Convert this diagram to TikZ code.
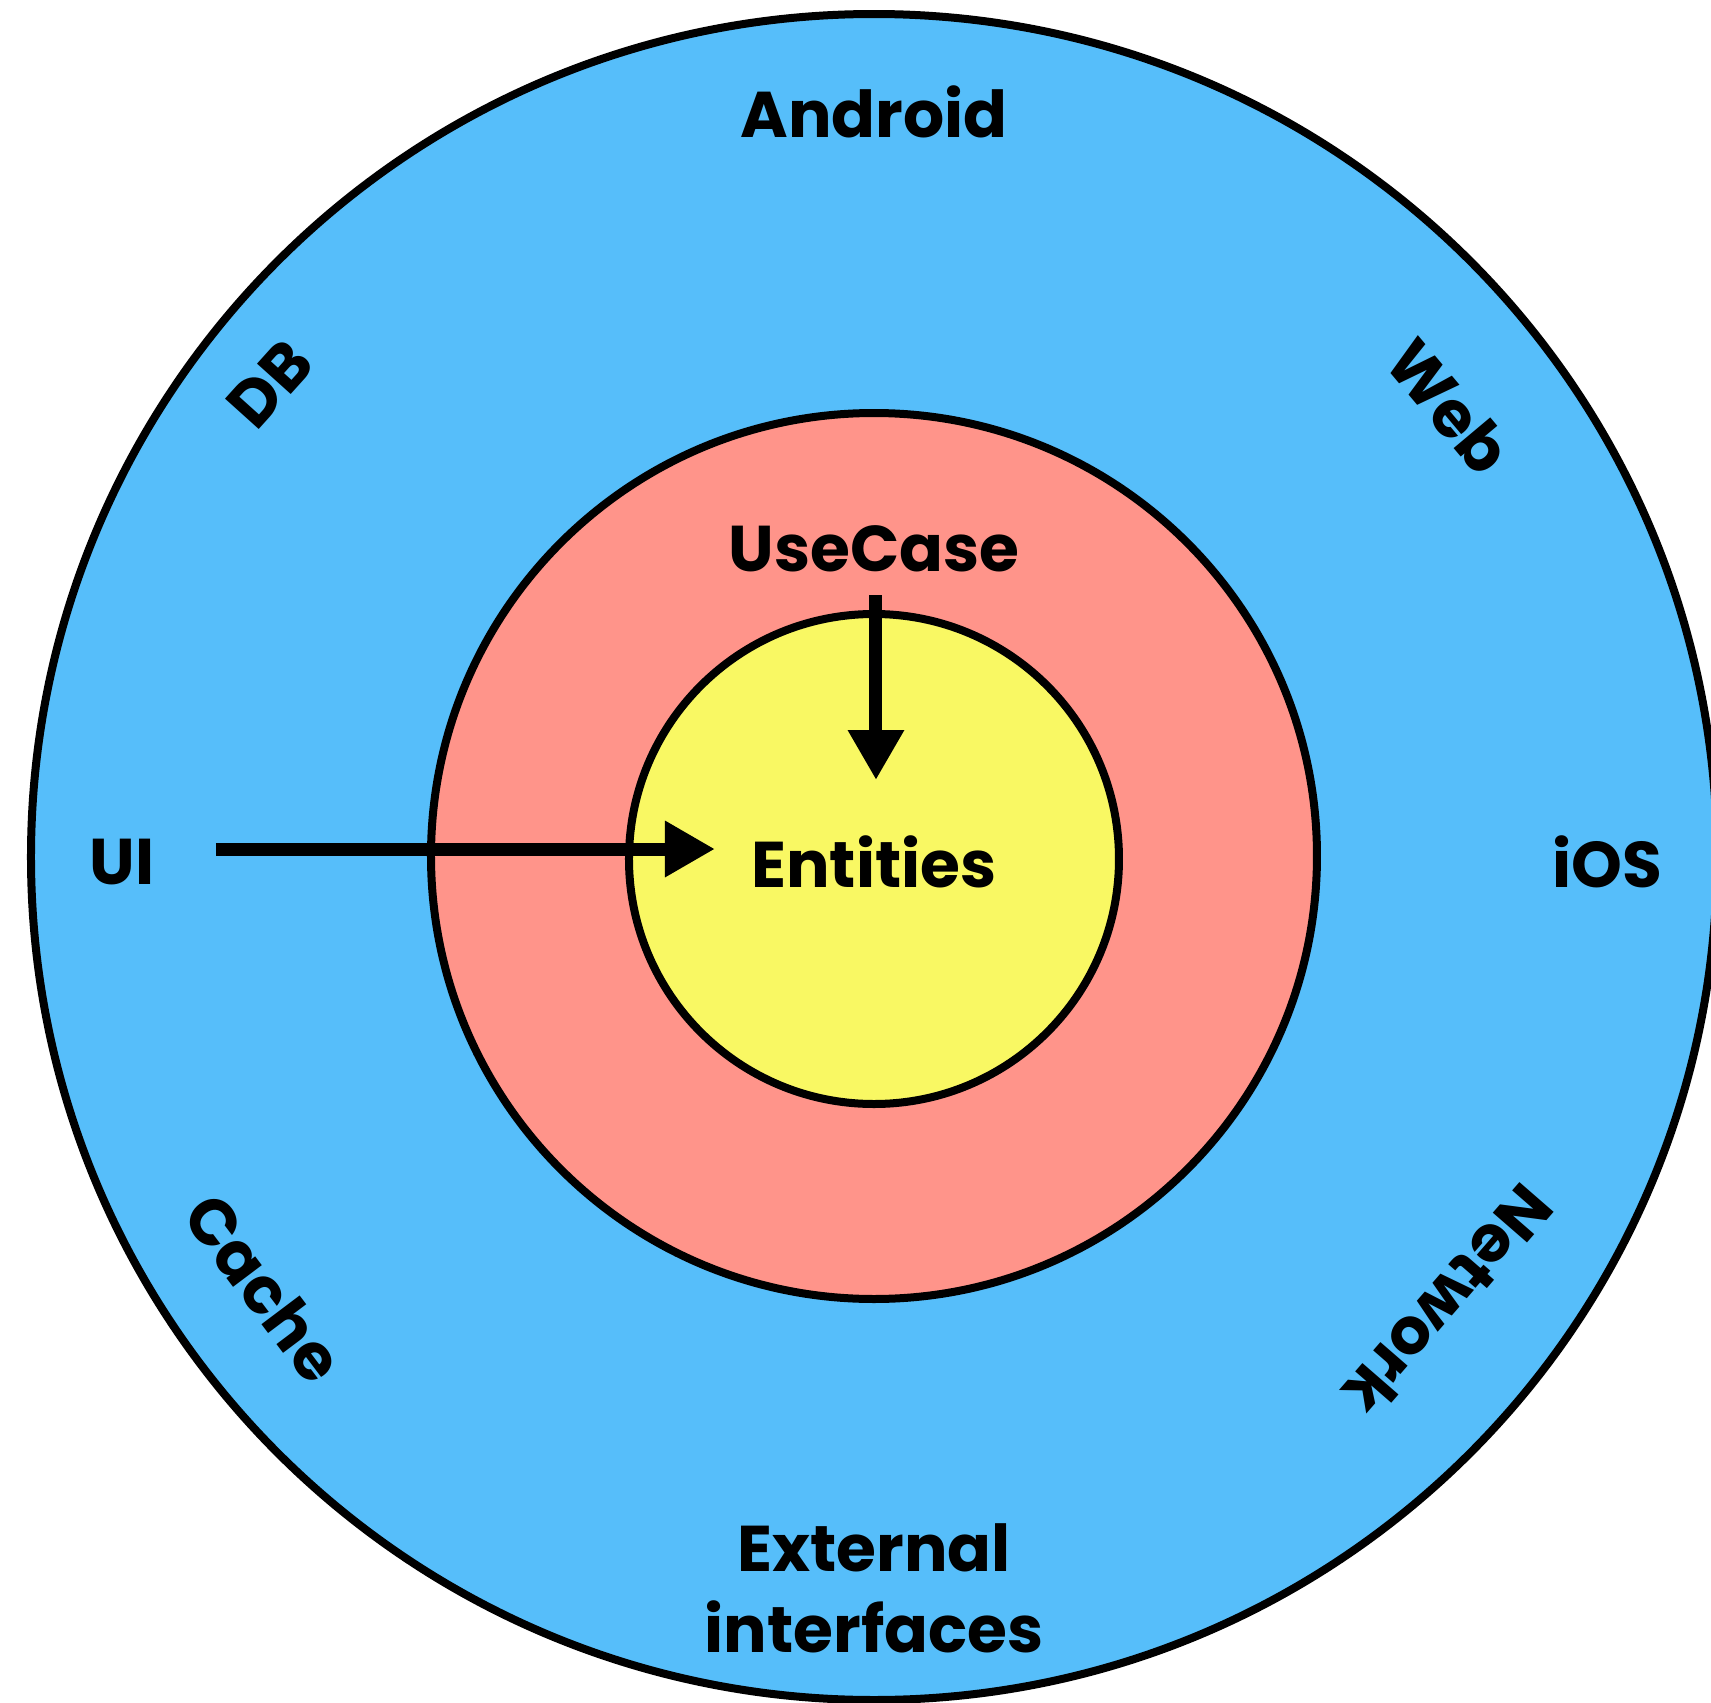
\documentclass[tikz,border=0pt]{standalone}
\usepackage{fontspec}
\setmainfont{Poppins}
\usetikzlibrary{arrows.meta,positioning}

\definecolor{azulcapa}{RGB}{86,190,250}
\definecolor{rojocapa}{RGB}{255,148,138}
\definecolor{amarillocapa}{RGB}{249,248,99}

\tikzset{
	capa/.style={draw=black, line width=.08cm},
	etiqueta/.style={font=\fontsize{18.4}{23}\selectfont\bfseries, inner sep=1pt},
	flecha/.style={-{Triangle[length=.5cm,width=.53cm]}, line width=.13cm}
}

\begin{document}
\begin{tikzpicture}
\useasboundingbox (-8.74,-8.45) rectangle (8.37,8.57);

%%%%%%%%%%%%%%%%%%%%%%%%%%%%%%%%%%%%%%%%%%%%%%%%	CAPAS
\filldraw[capa, fill=azulcapa] (0,0) circle (8.43);		%%%%	Capa externa
\filldraw[capa, fill=rojocapa] (0,.01) circle (4.43);		%%%%	Casos de uso
\filldraw[capa, fill=amarillocapa] (0,-.02) circle (2.45);	%%%%	Entidades

%%%%%%%%%%%%%%%%%%%%%%%%%%%%%%%%%%%%%%%%%%%%%%%%	TEXTOS
\node[etiqueta] (android) at (0,7.45) {Android};
\node[etiqueta] (usecase) at (0,3.08) {UseCase};
\node[etiqueta] (entities) at (0,-.05) {Entities};
\node[etiqueta] (ui) at (-7.52,-.05) {UI};
\node[etiqueta] (ios) at (7.33,-.05) {iOS};
\node[etiqueta, rotate=48] (db) at (-6.04,4.73) {DB};
\node[etiqueta, rotate=-50] (web) at (5.75,4.51) {Web};
\node[etiqueta, rotate=-53] (cache) at (-6.10,-4.31) {Cache};
\node[etiqueta, rotate=229] (network) at (5.75,-4.44) {Network};
\node[etiqueta, align=center] (external) at (0,-7.31) {External\\interfaces};

%%%%%%%%%%%%%%%%%%%%%%%%%%%%%%%%%%%%%%%%%%%%%%%%	DEPENDENCIAS
\coordinate (ui-sale) at (-6.58,.08);
\coordinate (ent-llega) at (-1.59,.08);
\coordinate (uc-sale) at (.02,2.62);
\coordinate (ent-arriba) at (.02,.77);
\draw[flecha] (ui-sale) -- (ent-llega);
\draw[flecha] (uc-sale) -- (ent-arriba);

\end{tikzpicture}
\end{document}
